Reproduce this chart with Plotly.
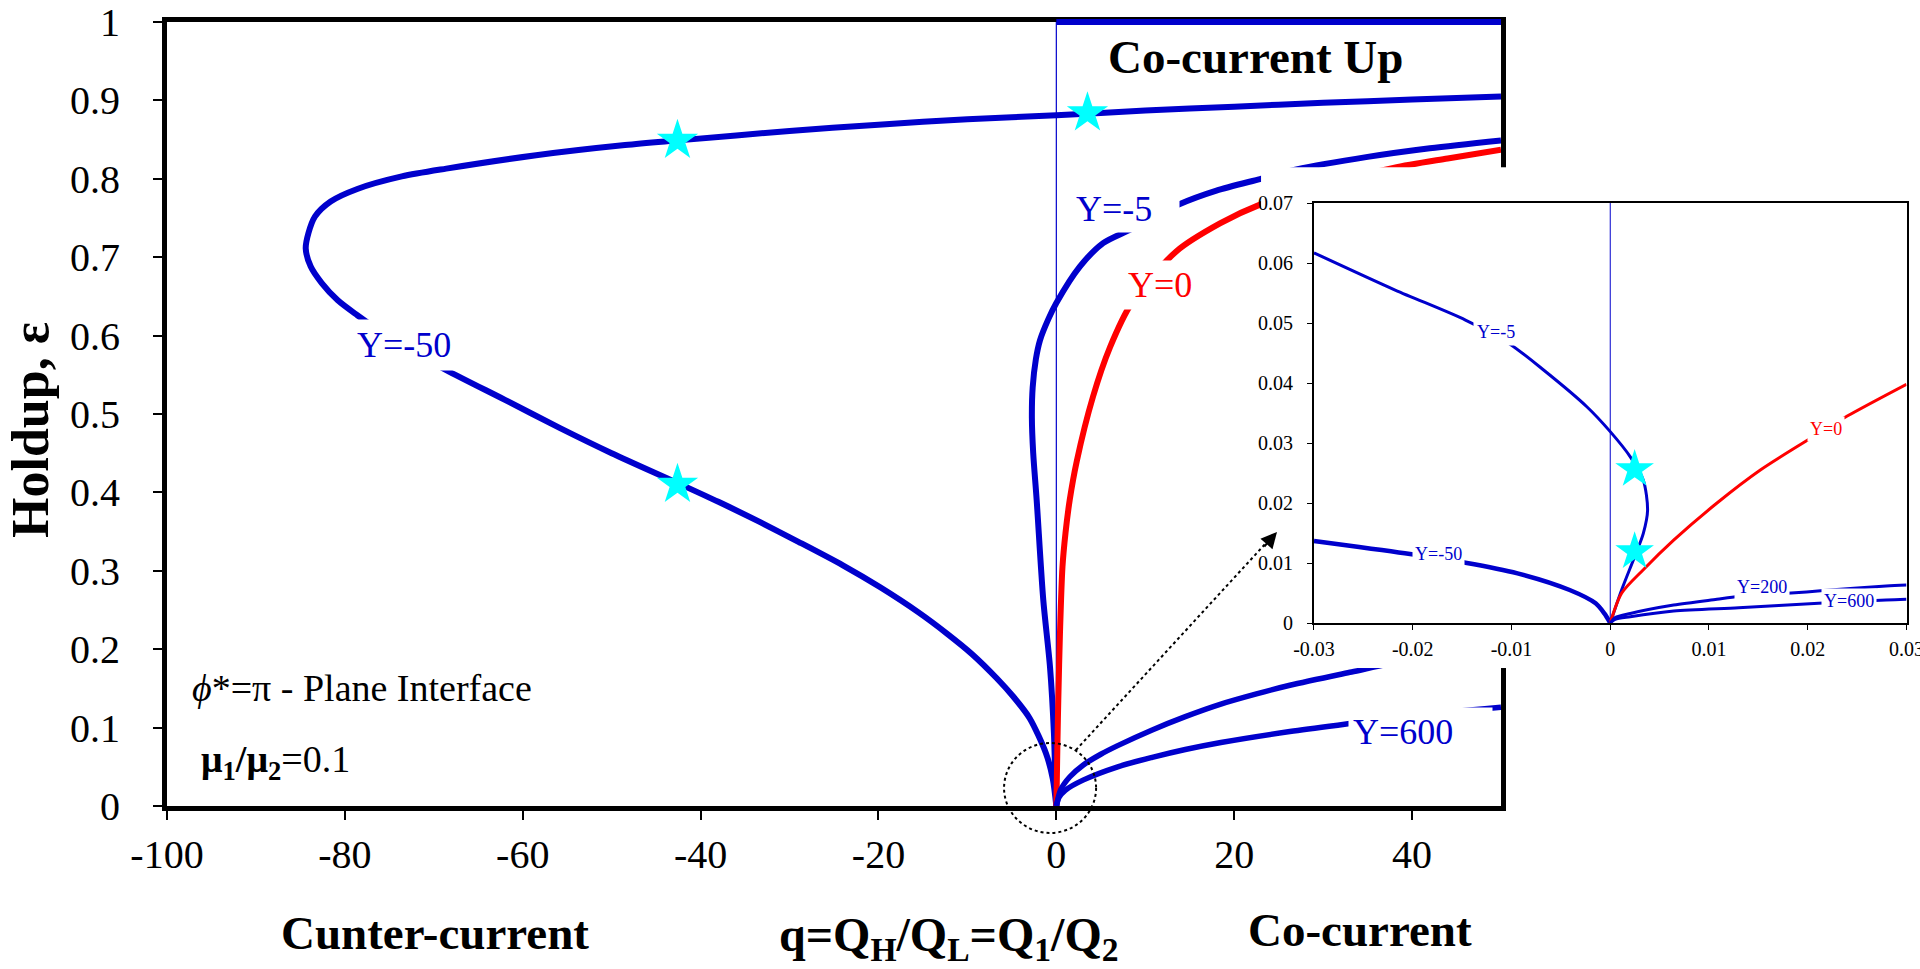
import plotly.graph_objects as go

FONT = "Liberation Serif"
BLUE = "#0000CC"
RED = "#FF0000"
CYAN = "#00FFFF"

# ---------------- main chart data: q = QH/QL, holdup eps ----------------
ym50_q = [0, -0.4, -1.16, -3.0, -4.8, -6.7, -9.5, -12.3, -15.5, -19.8, -24.0, -29.0, -33.3, -38.0, -42.6,
          -50.0, -55.8, -62.0, -68.6, -74.0, -78.6, -80.8, -82.6, -83.84, -84.4, -84.1, -83.35, -81.6, -78.6,
          -73.6, -68.6, -58.5, -48.5, -42.5, -30.0, -20.0, -10.0, 0.0, 10.0, 20.0, 30.0, 40.0, 50.0]
ym50_eps = [0, 0.035, 0.067, 0.112, 0.139, 0.163, 0.194, 0.220, 0.247, 0.279, 0.307, 0.337, 0.362, 0.388, 0.412,
            0.450, 0.482, 0.518, 0.556, 0.590, 0.626, 0.645, 0.667, 0.688, 0.711, 0.7305, 0.752, 0.771, 0.787,
            0.803, 0.813, 0.830, 0.843, 0.849, 0.861, 0.869, 0.876, 0.881, 0.887, 0.892, 0.897, 0.901, 0.905]

ym5_q = [0, -0.1, -0.27, -0.71, -1.47, -2.21, -2.6, -2.75, -2.66, -2.3, -1.84, -0.9, 0.0, 2.64, 5.26, 8.26,
         13.7, 18.0, 23.0, 27.0, 35.0, 42.0, 50.0]
ym5_eps = [0, 0.03, 0.093, 0.177, 0.263, 0.39, 0.45, 0.495, 0.534, 0.57, 0.594, 0.621, 0.6416, 0.688, 0.718,
           0.735, 0.767, 0.785, 0.800, 0.812, 0.828, 0.839, 0.849]

y0_q = [0, 0.05, 0.13, 0.22, 0.41, 0.69, 1.03, 1.5, 2.3, 4.12, 6.03, 8.47, 13.45, 18.4, 22.9, 30.0, 37.9,
        44.0, 50.0]
y0_eps = [0, 0.03, 0.084, 0.135, 0.221, 0.305, 0.348, 0.39, 0.44, 0.522, 0.585, 0.6416, 0.707, 0.743, 0.767,
          0.792, 0.814, 0.826, 0.837]

y200_q = [0, 0.5, 1.5, 3.0, 5.0, 6.9, 10.78, 14.5, 18.5, 22.5, 26.26, 33.2, 40.0, 50.0]
y200_eps = [0, 0.021, 0.037, 0.052, 0.066, 0.077, 0.097, 0.114, 0.130, 0.143, 0.154, 0.171, 0.187, 0.205]

y600_q = [0, 0.3, 1.0, 3.0, 6.9, 10.78, 14.5, 18.5, 26.26, 32.6, 40.0, 50.0]
y600_eps = [0, 0.011, 0.020, 0.033, 0.050, 0.062, 0.072, 0.081, 0.095, 0.1045, 0.115, 0.126]

star_q = [-42.6, -42.6, 3.5]
star_eps = [0.849, 0.410, 0.884]

zero_q = [0, 0]
zero_eps = [0, 1]
top_q = [0, 50]          # eps = 1 boundary (Co-current Up)
top_eps = [1, 1]

x_ticks = [-100, -80, -60, -40, -20, 0, 20, 40]
x_tick_text = ["-100", "-80", "-60", "-40", "-20", "0", "20", "40"]
y_ticks = [0, 0.1, 0.2, 0.3, 0.4, 0.5, 0.6, 0.7, 0.8, 0.9, 1.0]
y_tick_text = ["0", "0.1", "0.2", "0.3", "0.4", "0.5", "0.6", "0.7", "0.8", "0.9", "1"]

# ---------------- inset data ----------------
in_ym5_q = [-0.03, -0.02178, -0.01466, -0.01026, -0.00675, -0.00237, 0.0, 0.00203, 0.00335, 0.00378,
            0.00335, 0.00247, 0.00115, 0.0]
in_ym5_eps = [0.0617, 0.0555, 0.0505, 0.0466, 0.04217, 0.03605, 0.0319, 0.0277, 0.0238, 0.0188,
              0.01495, 0.01105, 0.0055, 0.0]

in_ym50_q = [-0.03, -0.0208, -0.01466, -0.00939, -0.00411, -0.00148, -0.0006, 0.0]
in_ym50_eps = [0.01367, 0.01162, 0.01005, 0.00828, 0.0055, 0.00328, 0.0016, 0.0]

in_y0_q = [0.0, 0.00115, 0.0033, 0.00642, 0.01081, 0.0152, 0.0205, 0.024, 0.03]
in_y0_eps = [0.0, 0.00495, 0.0088, 0.0138, 0.0200, 0.0255, 0.0310, 0.0345, 0.0398]

in_y200_q = [0.0, 0.0005, 0.00203, 0.00642, 0.0108, 0.013, 0.01793, 0.0216, 0.02793, 0.03]
in_y200_eps = [0.0, 0.0009, 0.0016, 0.0030, 0.00395, 0.0044, 0.00495, 0.0054, 0.00617, 0.00633]

in_y600_q = [0.0, 0.0005, 0.00203, 0.00642, 0.013, 0.0211, 0.02793, 0.03]
in_y600_eps = [0.0, 0.0006, 0.00105, 0.0020, 0.00255, 0.00328, 0.00383, 0.00395]

in_star_q = [0.00247, 0.00247]
in_star_eps = [0.0256, 0.0119]

in_zero_q = [0, 0]
in_zero_eps = [0, 0.07]

in_x_ticks = [-0.03, -0.02, -0.01, 0, 0.01, 0.02, 0.03]
in_x_tick_text = ["-0.03", "-0.02", "-0.01", "0", "0.01", "0.02", "0.03"]
in_y_ticks = [0, 0.01, 0.02, 0.03, 0.04, 0.05, 0.06, 0.07]
in_y_tick_text = ["0", "0.01", "0.02", "0.03", "0.04", "0.05", "0.06", "0.07"]

fig = go.Figure()


def line(x, y, color, width, xa="x", ya="y"):
    fig.add_trace(go.Scatter(x=x, y=y, mode="lines", xaxis=xa, yaxis=ya,
                             line=dict(color=color, width=width, shape="spline", smoothing=0.8),
                             showlegend=False, hoverinfo="skip"))


# main traces
fig.add_trace(go.Scatter(x=zero_q, y=zero_eps, mode="lines", line=dict(color=BLUE, width=1.2),
                         showlegend=False, hoverinfo="skip"))
line(ym50_q, ym50_eps, BLUE, 6)
line(ym5_q, ym5_eps, BLUE, 6)
line(y0_q, y0_eps, RED, 6)
line(y200_q, y200_eps, BLUE, 5.5)
line(y600_q, y600_eps, BLUE, 5.5)
fig.add_trace(go.Scatter(x=star_q, y=star_eps, mode="markers",
                         marker=dict(symbol="star", size=31, color=CYAN, line=dict(width=0)),
                         showlegend=False, hoverinfo="skip"))

# white cover subplot (background box behind inset)
fig.add_trace(go.Scatter(x=[None], y=[None], xaxis="x2", yaxis="y2", showlegend=False, hoverinfo="skip"))

# inset traces
fig.add_trace(go.Scatter(x=in_zero_q, y=in_zero_eps, mode="lines", xaxis="x3", yaxis="y3",
                         line=dict(color=BLUE, width=1), showlegend=False, hoverinfo="skip"))
line(in_ym5_q, in_ym5_eps, BLUE, 3, "x3", "y3")
line(in_ym50_q, in_ym50_eps, BLUE, 4.5, "x3", "y3")
line(in_y0_q, in_y0_eps, RED, 3, "x3", "y3")
line(in_y200_q, in_y200_eps, BLUE, 3, "x3", "y3")
line(in_y600_q, in_y600_eps, BLUE, 3, "x3", "y3")
fig.add_trace(go.Scatter(x=in_star_q, y=in_star_eps, mode="markers", xaxis="x3", yaxis="y3",
                         marker=dict(symbol="star", size=29, color=CYAN, line=dict(width=0)),
                         showlegend=False, hoverinfo="skip"))

main_ax = dict(showline=True, linewidth=5, linecolor="black", mirror=True, showgrid=False, zeroline=False,
               ticks="outside", ticklen=9, tickwidth=1.5, tickcolor="black", automargin=False,
               tickfont=dict(family=FONT, size=40, color="black"), layer="below traces")
in_ax = dict(showline=True, linewidth=2, linecolor="black", mirror=True, showgrid=False, zeroline=False,
             ticks="outside", ticklen=5, tickwidth=1, tickcolor="black", automargin=False,
             tickfont=dict(family=FONT, size=20, color="black"), layer="below traces")

fig.update_layout(
    width=1920, height=969,
    margin=dict(l=167, r=0, t=22, b=163, autoexpand=False),
    paper_bgcolor="white", plot_bgcolor="white",
    showlegend=False,
    font=dict(family=FONT, color="black"),
    xaxis=dict(domain=[0, 0.76098], range=[-100, 50], tickmode="array", tickvals=x_ticks,
               ticktext=x_tick_text, anchor="y", ticklabelstandoff=0, **main_ax),
    yaxis=dict(domain=[0, 1], range=[0, 1], tickmode="array", tickvals=y_ticks, ticktext=y_tick_text,
               anchor="x", ticklabelstandoff=25, **main_ax),
    xaxis2=dict(domain=[0.6241, 1.0], range=[0, 1], visible=False, anchor="y2", automargin=False),
    yaxis2=dict(domain=[0.176, 0.8147], range=[0, 1], visible=False, anchor="x2", automargin=False),
    xaxis3=dict(domain=[0.6543, 0.9923], range=[-0.03, 0.03], tickmode="array", tickvals=in_x_ticks,
                ticktext=in_x_tick_text, anchor="y3", ticklabelstandoff=2, ticklabeloverflow="allow",
                **in_ax),
    yaxis3=dict(domain=[0.2334, 0.7691], range=[0, 0.07], tickmode="array", tickvals=in_y_ticks,
                ticktext=in_y_tick_text, anchor="x3", ticklabelstandoff=10, **in_ax),
)

# eps = 1 boundary line (top, Co-current Up region)
fig.add_shape(type="line", xref="x", yref="y domain", x0=top_q[0], x1=top_q[1], y0=top_eps[0], y1=top_eps[1],
              line=dict(color=BLUE, width=6), layer="above")
# dotted circle around origin + dotted connector
fig.add_shape(type="circle", xref="paper", yref="paper", x0=0.4775, x1=0.530, y0=-0.0344, y1=0.0804,
              line=dict(color="black", width=2, dash="dot"), layer="above")
fig.add_shape(type="line", xref="paper", yref="paper", x0=0.5185, y0=0.0714, x1=0.628, y1=0.338,
              line=dict(color="black", width=2, dash="dot"), layer="above")
fig.add_annotation(xref="paper", yref="paper", x=0.6332, y=0.3495, ax=-14, ay=16, text="",
                   showarrow=True, arrowhead=2, arrowsize=1.6, arrowwidth=2, arrowcolor="black")


def ann(text, x, y, size, color="black", xref="paper", yref="paper", **kw):
    kw.setdefault("xanchor", "center")
    kw.setdefault("yanchor", "middle")
    fig.add_annotation(text=text, x=x, y=y, xref=xref, yref=yref, showarrow=False,
                       font=dict(family=FONT, size=size, color=color), **kw)


# titles / text
ann("<b>Holdup, ε</b>", -0.0776, 0.4796, 52, textangle=-90)
ann("<b>q=Q<sub>H</sub>/Q<sub>L</sub>=Q<sub>1</sub>/Q<sub>2</sub></b>", 0.4461, -0.168, 48)
ann("<b>Cunter-current</b>", 0.1529, -0.162, 47)
ann("<b>Co-current</b>", 0.6806, -0.158, 47)
ann("<b>Co-current Up</b>", 0.6212, 0.9554, 47)
ann("<i>ϕ</i>*=π - Plane Interface", 0.0131, 0.1505, 38, xanchor="left")
ann("<b>μ<sub>1</sub>/μ<sub>2</sub></b>=0.1", 0.0184, 0.0561, 38, xanchor="left")

# main curve labels
ann("Y=-50", -73.3, 0.5886, 36, BLUE, "x", "y", bgcolor="white", borderpad=5)
ann("Y=-5", 1.76, 0.761, 36, BLUE, "x", "y", bgcolor="white", borderpad=3, xanchor="left",
    width=100, align="left")
ann("Y=0", 11.66, 0.665, 36, RED, "x", "y", bgcolor="white", borderpad=4)
ann("Y=600", 32.8, 0.0938, 36, BLUE, "x", "y", bgcolor="white", borderpad=4, xanchor="left",
    width=135, align="left")

# inset curve labels
ann("Y=-5", -0.01157, 0.0485, 18, BLUE, "x3", "y3", bgcolor="white", borderpad=3)
ann("Y=-50", -0.01744, 0.0115, 18, BLUE, "x3", "y3", bgcolor="white", borderpad=2)
ann("Y=0", 0.0218, 0.0323, 18, RED, "x3", "y3", bgcolor="white", borderpad=2)
ann("Y=200", 0.01537, 0.0060, 18, BLUE, "x3", "y3", bgcolor="white", borderpad=2)
ann("Y=600", 0.02417, 0.00367, 18, BLUE, "x3", "y3", bgcolor="white", borderpad=2)

fig.write_html("out.html")
